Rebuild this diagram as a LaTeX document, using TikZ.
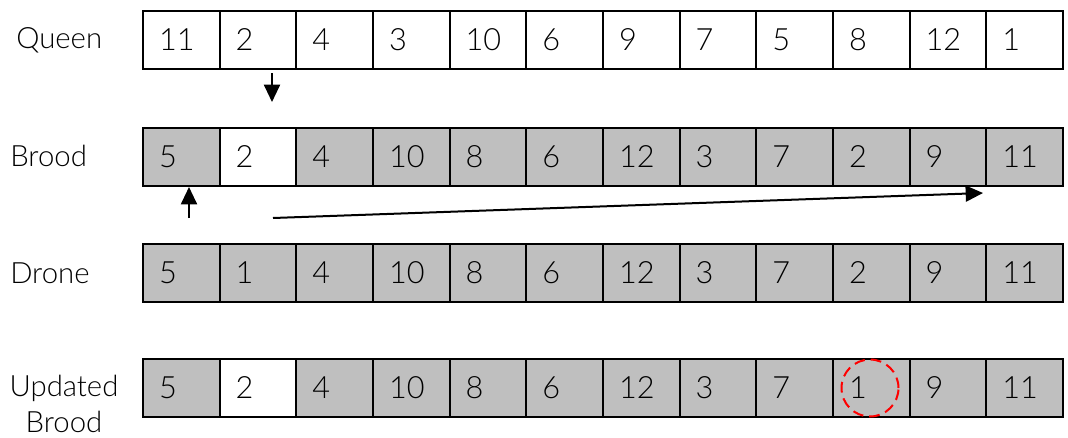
\documentclass[tikz,border=0pt]{standalone}
\usepackage{fontspec}
\setmainfont{Lato Light}
\usetikzlibrary{arrows.meta,positioning}
\definecolor{cellg}{RGB}{191,191,191}
\definecolor{cellw}{RGB}{255,255,255}
\definecolor{markred}{RGB}{255,0,0}

\begin{document}
\begin{tikzpicture}[x=0.75pt,y=-0.75pt,
    cell/.style={draw,line width=1.5pt,minimum width=57.5pt,minimum height=43.5pt,
      inner xsep=12pt,text width=33.5pt,align=left,font=\fontsize{23}{28}\selectfont},
    rowlabel/.style={anchor=west,inner sep=0pt,font=\fontsize{22}{27}\selectfont},
    arr/.style={line width=1.5pt,-{Triangle[length=13pt,width=12pt]}}]
  \useasboundingbox (0,0) rectangle (1068,437);
  % row labels
  \node[rowlabel] (queen) at (16,40) {Queen};
  \node[rowlabel] (brood) at (10,156) {Brood};
  \node[rowlabel] (drone) at (10,273) {Drone};
  \node[rowlabel,anchor=center,align=center] (updated) at (64,404) {Updated\\Brood};
  % the four rows of cells
  \foreach \v [count=\i] in {11,2,4,3,10,6,9,7,5,8,12,1}
    \node[cell,fill=cellw] (q\i) at ({143+76.67*(\i-0.5)},40) {\v};
  \foreach \v/\c [count=\i] in {5/g,2/w,4/g,10/g,8/g,6/g,12/g,3/g,7/g,2/g,9/g,11/g}
    \node[cell,fill=cell\c] (b\i) at ({143+76.67*(\i-0.5)},156.5) {\v};
  \foreach \v [count=\i] in {5,1,4,10,8,6,12,3,7,2,9,11}
    \node[cell,fill=cellg] (d\i) at ({143+76.67*(\i-0.5)},273) {\v};
  \foreach \v/\c [count=\i] in {5/g,2/w,4/g,10/g,8/g,6/g,12/g,3/g,7/g,1/g,9/g,11/g}
    \node[cell,fill=cell\c] (u\i) at ({143+76.67*(\i-0.5)},388) {\v};
  % arrows
  \coordinate (qfrom) at (272,73);
  \coordinate (qto) at (272,102);
  \coordinate (bfrom) at (189,218);
  \coordinate (bto) at (189,187);
  \coordinate (mfrom) at (273,218);
  \coordinate (mto) at (983,193);
  \draw[arr] (qfrom) -- (qto);
  \draw[arr] (bfrom) -- (bto);
  \draw[arr] (mfrom) -- (mto);
  % changed gene
  \node[draw=markred,line width=1.5pt,dash pattern=on 8pt off 4.5pt,circle,
    minimum size=42.75pt,inner sep=0pt] (ring) at (870,388) {};
\end{tikzpicture}
\end{document}
